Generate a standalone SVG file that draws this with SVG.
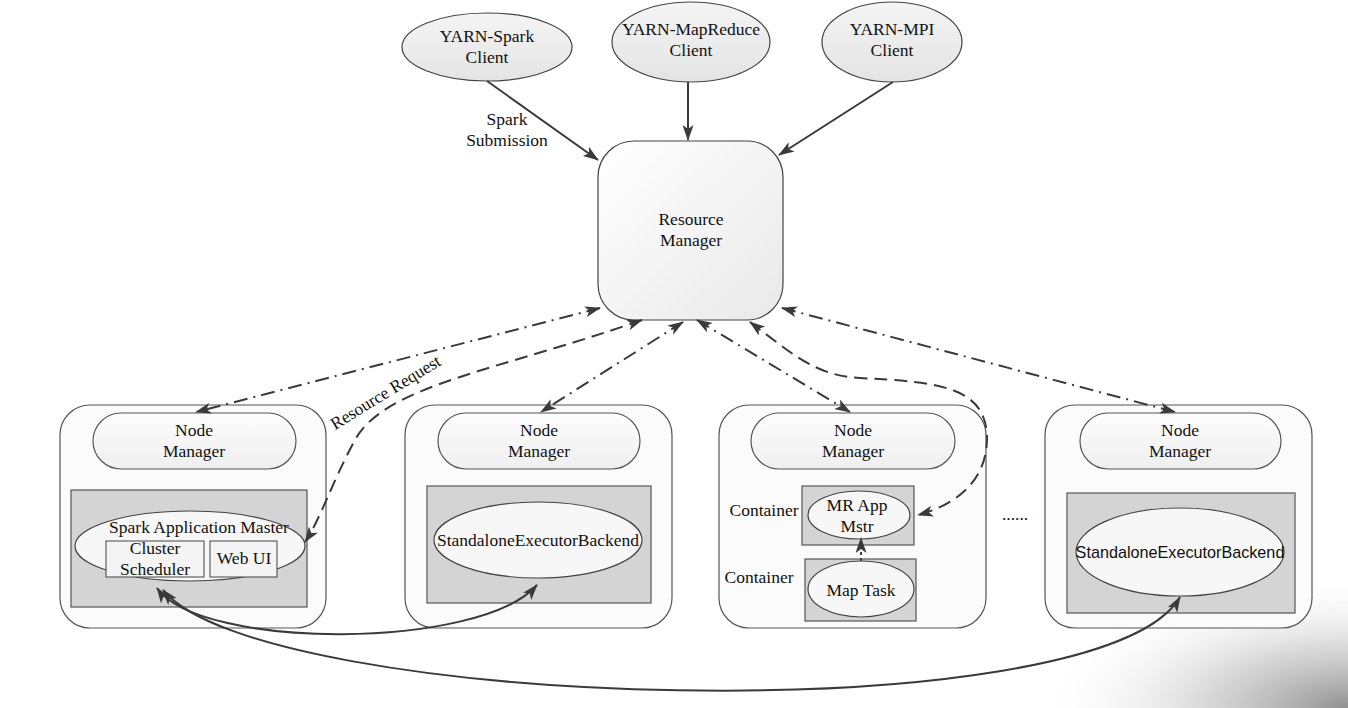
<svg xmlns="http://www.w3.org/2000/svg" width="1348" height="708" viewBox="0 0 1348 708">
<defs>
<style>
text{font-family:"Liberation Serif","Times New Roman",serif;font-size:17.5px;fill:#111;text-anchor:middle}
.sans{font-family:"Liberation Sans","Open Sans",Arial,sans-serif;font-size:16.2px}
.outer{fill:#fbfbfb;stroke:#555;stroke-width:1.2}
.pill{fill:url(#pg);stroke:#555;stroke-width:1.2}
.gray{fill:#d4d4d4;stroke:#555;stroke-width:1.2}
.ell{fill:#f7f7f7;stroke:#444;stroke-width:1.2}
.cli{fill:url(#cg);stroke:#444;stroke-width:1.2}
.solid{fill:none;stroke:#3a3a3a;stroke-width:2}
.dd{fill:none;stroke:#3a3a3a;stroke-width:2;stroke-dasharray:14 6 2 6}
.da{fill:none;stroke:#3a3a3a;stroke-width:2;stroke-dasharray:13 7}
</style>
<linearGradient id="pg" x1="0" y1="0" x2="0" y2="1"><stop offset="0" stop-color="#fdfdfd"/><stop offset="1" stop-color="#efefef"/></linearGradient>
<linearGradient id="cg" x1="0" y1="0" x2="0" y2="1"><stop offset="0" stop-color="#f4f4f4"/><stop offset="1" stop-color="#e4e4e4"/></linearGradient>
<linearGradient id="rg" x1="0" y1="0" x2="1" y2="1"><stop offset="0" stop-color="#ffffff"/><stop offset="1" stop-color="#e9e9e9"/></linearGradient>
<radialGradient id="shadow" cx="1348" cy="708" r="240" gradientUnits="userSpaceOnUse" gradientTransform="translate(1348 708) scale(1.3 0.55) translate(-1348 -708)"><stop offset="0" stop-color="#8a8a8a" stop-opacity="0.95"/><stop offset="0.45" stop-color="#bdbdbd" stop-opacity="0.6"/><stop offset="1" stop-color="#ffffff" stop-opacity="0"/></radialGradient>
<marker id="ah" viewBox="0 0 16 11" refX="15" refY="5.5" markerWidth="16" markerHeight="11" markerUnits="userSpaceOnUse" orient="auto-start-reverse"><path d="M0,0 L16,5.5 L0,11 L4,5.5 z" fill="#3a3a3a"/></marker>
</defs>
<rect width="1348" height="708" fill="#ffffff"/>
<rect width="1348" height="708" fill="url(#shadow)"/>

<g id="client-spark"><ellipse class="cli" cx="487" cy="47" rx="85" ry="34"/><text x="487" y="42">YARN-Spark</text><text x="487" y="63">Client</text></g>
<g id="client-mapreduce"><ellipse class="cli" cx="691" cy="42" rx="79" ry="40"/><text x="691" y="35">YARN-MapReduce</text><text x="691" y="56">Client</text></g>
<g id="client-mpi"><ellipse class="cli" cx="892" cy="42" rx="70" ry="40"/><text x="892" y="35">YARN-MPI</text><text x="892" y="56">Client</text></g>

<g id="resource-manager"><rect x="598" y="141" width="185" height="179" rx="36" fill="url(#rg)" stroke="#444" stroke-width="1.2"/><text x="691" y="225">Resource</text><text x="691" y="246">Manager</text></g>

<g id="node1">
<rect class="outer" x="60" y="405" width="266" height="223" rx="30"/>
<rect class="pill" x="93" y="413" width="203" height="56" rx="28"/>
<text x="194" y="436">Node</text><text x="194" y="457">Manager</text>
<rect class="gray" x="71" y="490" width="236" height="117"/>
<ellipse class="ell" cx="190" cy="546" rx="115" ry="35"/>
<text x="199" y="533">Spark Application Master</text>
<rect x="106" y="541" width="98" height="36" fill="#f4f4f4" stroke="#444" stroke-width="1"/>
<text x="155" y="554">Cluster</text><text x="155" y="575">Scheduler</text>
<rect x="210" y="541" width="67" height="36" fill="#f4f4f4" stroke="#444" stroke-width="1"/>
<text x="244" y="564">Web UI</text>
</g>

<g id="node2">
<rect class="outer" x="405" y="405" width="267" height="223" rx="30"/>
<rect class="pill" x="438" y="413" width="202" height="56" rx="28"/>
<text x="539" y="436">Node</text><text x="539" y="457">Manager</text>
<rect class="gray" x="427" y="486" width="224" height="117"/>
<ellipse class="ell" cx="538" cy="540" rx="104" ry="38"/>
<text x="538" y="546">StandaloneExecutorBackend</text>
</g>

<g id="node3">
<rect class="outer" x="719" y="405" width="267" height="223" rx="30"/>
<rect class="pill" x="751" y="413" width="204" height="56" rx="28"/>
<text x="853" y="436">Node</text><text x="853" y="457">Manager</text>
<text x="764" y="516">Container</text>
<rect class="gray" x="802" y="486" width="112" height="59"/>
<ellipse class="ell" cx="859" cy="515" rx="51" ry="24"/>
<text x="857" y="511">MR App</text><text x="857" y="532">Mstr</text>
<text x="759" y="583">Container</text>
<rect class="gray" x="805" y="559" width="111" height="62"/>
<ellipse class="ell" cx="861" cy="589" rx="53" ry="28"/>
<text x="861" y="596">Map Task</text>
</g>

<g id="ellipsis"><text x="1015" y="520">......</text></g>

<g id="node4">
<rect class="outer" x="1045" y="405" width="267" height="223" rx="30"/>
<rect class="pill" x="1080" y="413" width="201" height="56" rx="28"/>
<text x="1180" y="436">Node</text><text x="1180" y="457">Manager</text>
<rect class="gray" x="1067" y="493" width="228" height="120"/>
<ellipse class="ell" cx="1180" cy="552" rx="104" ry="44"/>
<text class="sans" x="1180" y="558">StandaloneExecutorBackend</text>
</g>

<g id="connectors">
<line class="solid" x1="487" y1="81" x2="598" y2="160" marker-end="url(#ah)"/>
<line class="solid" x1="688" y1="82" x2="688" y2="140" marker-end="url(#ah)"/>
<line class="solid" x1="893" y1="82" x2="779" y2="155" marker-end="url(#ah)"/>
<text x="507" y="125">Spark</text><text x="507" y="146">Submission</text>

<line class="dd" x1="600" y1="308" x2="196" y2="412" marker-start="url(#ah)" marker-end="url(#ah)"/>
<path class="da" d="M642,320 C500,370 385,385 355,440 C333,480 320,520 305,542" marker-start="url(#ah)" marker-end="url(#ah)"/>
<text x="386" y="398" transform="rotate(-31.5 386 393)" font-size="16.5">Resource Request</text>
<line class="dd" x1="683" y1="322" x2="541" y2="412" marker-start="url(#ah)" marker-end="url(#ah)"/>
<line class="dd" x1="697" y1="320" x2="850" y2="412" marker-start="url(#ah)" marker-end="url(#ah)"/>
<path class="da" d="M750,322 C790,352 815,376 860,378 C935,382 988,385 987,440 C986,482 955,505 918,515" marker-start="url(#ah)" marker-end="url(#ah)"/>
<line class="dd" x1="782" y1="308" x2="1175" y2="412" marker-start="url(#ah)" marker-end="url(#ah)"/>
<line x1="861" y1="561" x2="861" y2="538" stroke="#3a3a3a" stroke-width="2" stroke-dasharray="3 3" marker-end="url(#ah)"/>

<path class="solid" d="M157,588 C200,650 480,650 537,585" marker-start="url(#ah)" marker-end="url(#ah)"/>
<path class="solid" d="M163,590 C260,710 1100,735 1180,597" marker-start="url(#ah)" marker-end="url(#ah)"/>
</g>
</svg>
